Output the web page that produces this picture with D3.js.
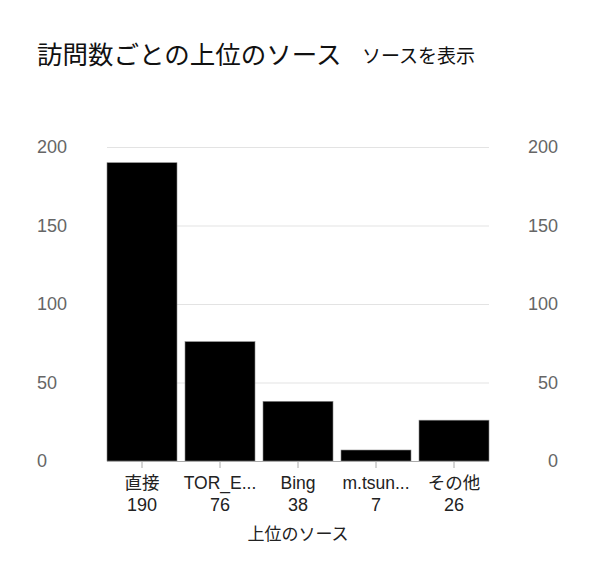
<!DOCTYPE html>
<html>
<head>
<meta charset="utf-8">
<script src="https://cdn.jsdelivr.net/npm/d3@7"></script>
<style>
  body { margin: 0; background: #fff; }
  text { font-family: "Liberation Sans", "Noto Sans CJK JP", sans-serif; }
</style>
</head>
<body>
<div id="chart"></div>
<script>
// data
var sources = ["直接", "TOR_E...", "Bing", "m.tsun...", "その他"];
var visits = [190, 76, 38, 7, 26];
var yTicks = [0, 50, 100, 150, 200];

const _width = 610;
const _height = 574;
const _plotLeft = 107;
const _plotRight = 489;
const _plotTop = 147;
const _plotBottom = 461;

var svg = d3.select("#chart")
    .append("svg")
    .attr("width", _width)
    .attr("height", _height);

// title
svg.append("text")
    .attr("x", 37)
    .attr("y", 64)
    .style("font-size", "25.5px")
    .attr("fill", "#111")
    .text("訪問数ごとの上位のソース");

svg.append("text")
    .attr("x", 362)
    .attr("y", 63)
    .style("font-size", "19px")
    .attr("fill", "#111")
    .text("ソースを表示");

var x = d3.scaleBand()
    .domain(sources)
    .range([_plotLeft, _plotRight])
    .paddingInner(8 / 78)
    .paddingOuter(0);

var y = d3.scaleLinear()
    .domain([0, 200])
    .range([_plotBottom, _plotTop]);

// gridlines
svg.append("g")
    .selectAll("line")
    .data(yTicks.filter(d => d > 0))
    .join("line")
    .attr("x1", _plotLeft)
    .attr("x2", _plotRight)
    .attr("y1", d => y(d) + 0.5)
    .attr("y2", d => y(d) + 0.5)
    .attr("stroke", "#e3e3e3")
    .attr("stroke-width", 1);

// left y labels
svg.append("g")
    .selectAll("text")
    .data(yTicks)
    .join("text")
    .attr("x", 37)
    .attr("y", d => y(d))
    .attr("dy", "0.35em")
    .style("font-size", "18px")
    .attr("fill", "#666")
    .text(d => d);

// right y labels
svg.append("g")
    .selectAll("text")
    .data(yTicks)
    .join("text")
    .attr("x", 558)
    .attr("y", d => y(d))
    .attr("dy", "0.35em")
    .attr("text-anchor", "end")
    .style("font-size", "18px")
    .attr("fill", "#666")
    .text(d => d);

// bars
svg.append("g")
    .selectAll("rect")
    .data(visits)
    .join("rect")
    .attr("x", (d, i) => x(sources[i]))
    .attr("y", d => y(d))
    .attr("width", x.bandwidth())
    .attr("height", d => y(0) - y(d))
    .attr("fill", "#000")
    .attr("stroke", "#888")
    .attr("stroke-width", 0.6);

// x axis
var xAxis = svg.append("g")
    .attr("transform", "translate(0," + _plotBottom + ")");

xAxis.append("line")
    .attr("x1", _plotLeft)
    .attr("x2", _plotRight)
    .attr("y1", 0.5)
    .attr("y2", 0.5)
    .attr("stroke", "#aaa")
    .attr("stroke-width", 1.2);

var ticks = xAxis.selectAll("g.tick")
    .data(sources)
    .join("g")
    .attr("class", "tick")
    .attr("transform", d => "translate(" + (x(d) + x.bandwidth() / 2) + ",0)");

ticks.append("line")
    .attr("y1", 1)
    .attr("y2", 7)
    .attr("stroke", "#aaa")
    .attr("stroke-width", 1);

ticks.append("text")
    .attr("y", 28)
    .attr("text-anchor", "middle")
    .style("font-size", "17.5px")
    .attr("fill", "#222")
    .text(d => d);

ticks.append("text")
    .attr("y", 50)
    .attr("text-anchor", "middle")
    .style("font-size", "18px")
    .attr("fill", "#222")
    .text((d, i) => visits[i]);

// x axis title
svg.append("text")
    .attr("x", 298)
    .attr("y", 540)
    .attr("text-anchor", "middle")
    .style("font-size", "17px")
    .attr("fill", "#222")
    .text("上位のソース");
</script>
</body>
</html>
